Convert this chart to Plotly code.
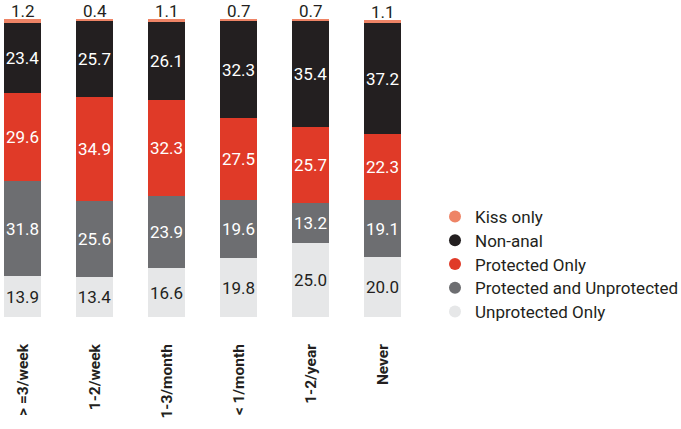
import plotly.graph_objects as go

categories = ["> =3/week", "1-2/week", "1-3/month", "< 1/month", "1-2/year", "Never"]
unprotected_only = [13.9, 13.4, 16.6, 19.8, 25.0, 20.0]
protected_and_unprotected = [31.8, 25.6, 23.9, 19.6, 13.2, 19.1]
protected_only = [29.6, 34.9, 32.3, 27.5, 25.7, 22.3]
non_anal = [23.4, 25.7, 26.1, 32.3, 35.4, 37.2]
kiss_only = [1.2, 0.4, 1.1, 0.7, 0.7, 1.1]

series = [
    ("Unprotected Only", unprotected_only, "#E6E7E8", "#231F20"),
    ("Protected and Unprotected", protected_and_unprotected, "#6D6E71", "#FFFFFF"),
    ("Protected Only", protected_only, "#E03A28", "#FFFFFF"),
    ("Non-anal", non_anal, "#231F20", "#FFFFFF"),
    ("Kiss only", kiss_only, "#EE8466", "#231F20"),
]

FONT = "Roboto"
fig = go.Figure()
xs = list(range(len(categories)))
for name, vals, color, tcol in series:
    is_top = name == "Kiss only"
    fig.add_trace(go.Bar(
        x=xs, y=vals, name=name, marker=dict(color=color, line=dict(width=0)),
        width=0.514,
        text=None if is_top else [f"{v:.1f}" for v in vals],
        textposition="none" if is_top else "inside",
        insidetextanchor="middle",
        textangle=0,
        constraintext="none",
        textfont=dict(family=FONT, size=17, color=tcol),
        showlegend=False, hoverinfo="skip",
    ))

totals = [sum(s[1][i] for s in series) for i in range(len(categories))]
for i, v in enumerate(kiss_only):
    fig.add_annotation(x=xs[i], y=totals[i], text=f"{v:.1f}", showarrow=False,
                       yanchor="bottom", yshift=-3, borderpad=0,
                       font=dict(family=FONT, size=17, color="#231F20"))

legend_layout = {}
for k, (name, vals, color, tcol) in enumerate(reversed(series)):
    lname = "legend" if k == 0 else f"legend{k + 1}"
    fig.add_trace(go.Scatter(
        x=[None], y=[None], mode="markers", name=name, legend=lname,
        marker=dict(symbol="circle", size=14, color=color),
    ))
    center = 216 + 23.75 * k
    legend_layout[lname] = dict(
        xref="container", yref="container", x=435 / 681, y=1 - (center - 17) / 429,
        xanchor="left", yanchor="top", bgcolor="rgba(0,0,0,0)",
        font=dict(family=FONT, size=17, color="#231F20"), itemsizing="constant")

fig.update_layout(
    width=681, height=429,
    margin=dict(l=0, r=261, t=19, b=112),
    barmode="stack", bargap=0,
    plot_bgcolor="white", paper_bgcolor="white",
    font=dict(family=FONT, size=15, color="#231F20"),
    xaxis=dict(range=[-0.3125, 420 / 72 - 0.3125], tickmode="array", tickvals=xs,
               ticktext=categories, tickangle=-90, showgrid=False, zeroline=False,
               showline=False, ticks="", ticklabelstandoff=23,
               tickfont=dict(family=FONT, size=15.5, color="#231F20", weight="bold")),
    yaxis=dict(range=[0, 100], visible=False),
    **legend_layout,
)

fig.write_html("out.html")
